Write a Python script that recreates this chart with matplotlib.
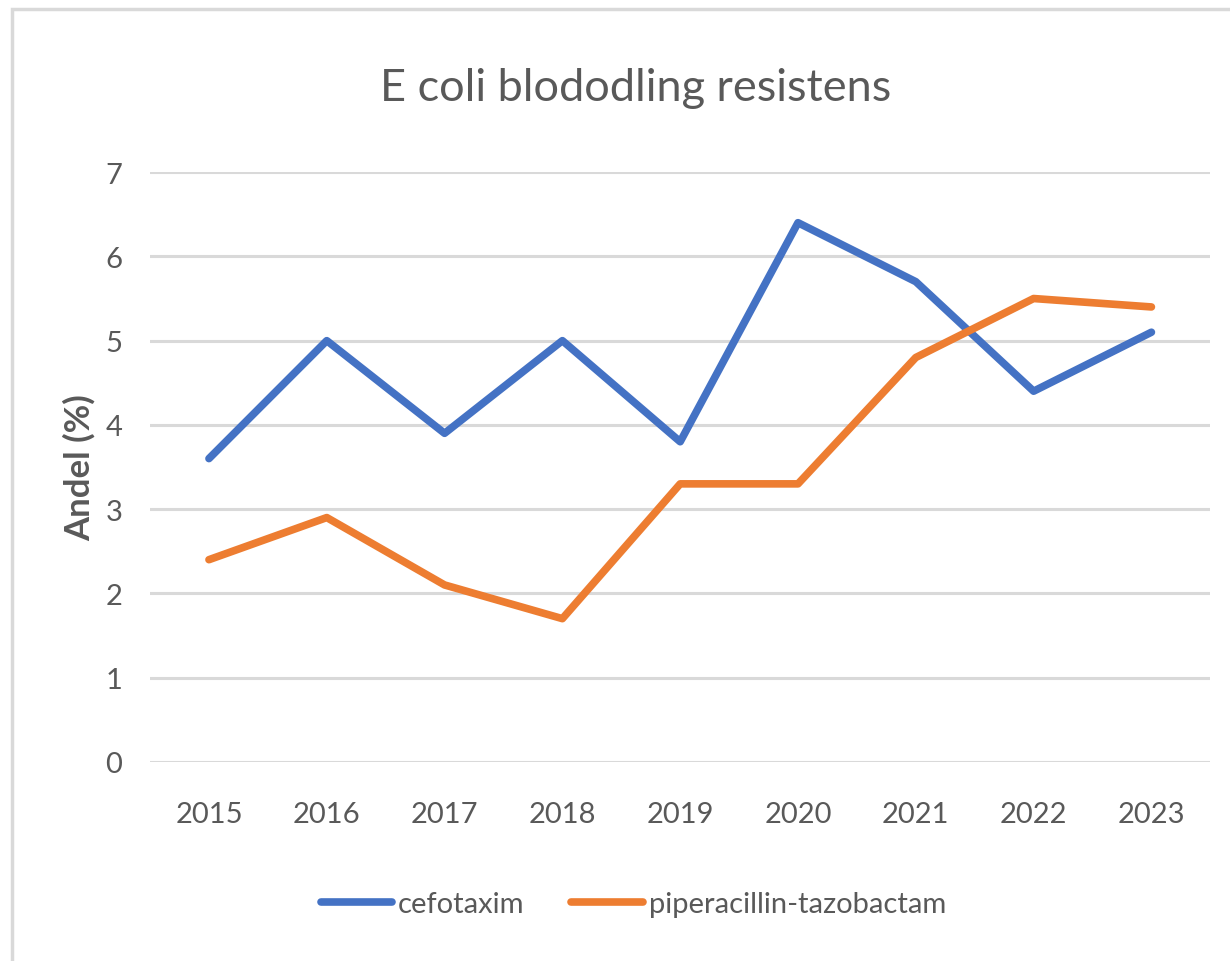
import matplotlib.pyplot as plt
from matplotlib.patches import Rectangle

# ── Data ───────────────────────────────────────────────────────────────────────
YEARS = ["2015", "2016", "2017", "2018", "2019", "2020", "2021", "2022", "2023"]
CEFOTAXIM = [3.6, 5.0, 3.9, 5.0, 3.8, 6.4, 5.7, 4.4, 5.1]
PIP_TAZO = [2.4, 2.9, 2.1, 1.7, 3.3, 3.3, 4.8, 5.5, 5.4]
Y_TICKS = [0, 1, 2, 3, 4, 5, 6, 7]

BLUE = "#4472C4"
ORANGE = "#ED7D31"
TEXT = "#595959"
GRID = "#D9D9D9"

plt.rcParams["font.family"] = ["Lato", "DejaVu Sans"]

fig = plt.figure(figsize=(12.3, 9.62), dpi=100)
ax = fig.add_axes([0.122, 0.207, 0.862, 0.613])

x = range(len(YEARS))
ax.plot(x, CEFOTAXIM, color=BLUE, linewidth=5.5, solid_joinstyle="round",
        solid_capstyle="round", label="cefotaxim")
ax.plot(x, PIP_TAZO, color=ORANGE, linewidth=5.5, solid_joinstyle="round",
        solid_capstyle="round", label="piperacillin-tazobactam")

ax.set_xlim(-0.5, len(YEARS) - 0.5)
ax.set_ylim(0, 7)
ax.set_yticks(Y_TICKS)
ax.set_xticks(list(x))
ax.set_xticklabels(YEARS)
ax.tick_params(length=0, labelsize=21, colors=TEXT)
ax.tick_params(axis="y", pad=20)
ax.tick_params(axis="x", pad=28)
ax.grid(axis="y", color=GRID, linewidth=2.2)
ax.set_axisbelow(True)
for s in ax.spines.values():
    s.set_visible(False)

ax.set_ylabel("Andel (%)", fontsize=25, color=TEXT, fontweight="bold", labelpad=7)
fig.text(0.517, 0.908, "E coli blododling resistens", ha="center", va="center",
         fontsize=32.5, color=TEXT)

fig.legend(loc="center", bbox_to_anchor=(0.515, 0.059), ncol=2, frameon=False,
           fontsize=21, handlelength=2.45, handletextpad=0.2, columnspacing=1.6,
           labelcolor=TEXT)

# chart border like the spreadsheet frame
fig.patches.append(Rectangle((0.0095, -0.01), 1.02, 1.0, transform=fig.transFigure,
                             fill=False, edgecolor=GRID, linewidth=2.5))

fig.savefig("out.png", dpi=100)
